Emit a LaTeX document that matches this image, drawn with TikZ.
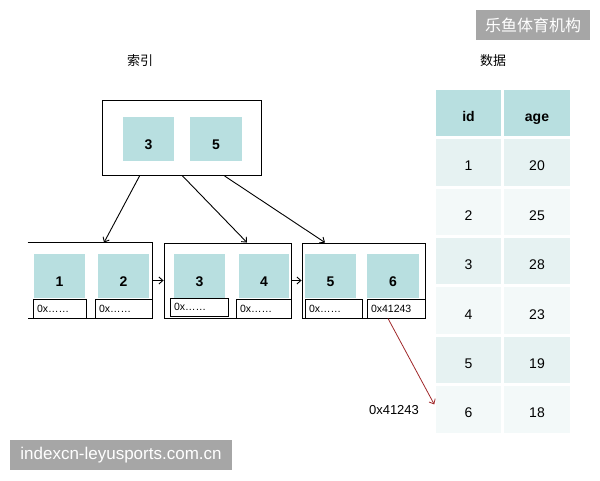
\documentclass[tikz,border=0pt]{standalone}
\usepackage{fontspec}
\setmainfont{Liberation Sans}
\newfontfamily\cjk{Noto Sans CJK SC}
\usepackage{xcolor}
\usetikzlibrary{positioning,calc,arrows.meta}
\definecolor{keycol}{HTML}{B8DFE0}
\definecolor{rowa}{HTML}{E6F2F2}
\definecolor{rowb}{HTML}{F3F9F9}
\definecolor{markgray}{HTML}{A6A6A6}
\definecolor{linkred}{HTML}{A0282A}

\begin{document}
\begin{tikzpicture}[x=1pt, y=-1pt, ->, >={Straight Barb[length=4pt,width=7pt]}, line width=0.9pt,
  box/.style = {draw, minimum height=75pt, inner sep=0pt},
  key/.style = {fill=keycol, minimum width=51pt, minimum height=44pt, inner sep=0pt, text height=20pt, text depth=0pt, font=\bfseries\fontsize{14}{16}\selectfont},
  ptr/.style = {draw, fill=white, minimum width=#1, minimum height=19pt, inner sep=0pt},
  ptrtext/.style = {anchor=west, inner sep=4pt, font=\fontsize{10.5}{12}\selectfont},
  cell/.style = {draw=white, line width=1.5pt, minimum height=48pt, inner sep=0pt, text height=17pt, text depth=0pt, font=\fontsize{14}{16}\selectfont},
  stamp/.style = {fill=markgray, text=white, inner sep=0pt, font=\fontsize{17}{19}\selectfont}]

\useasboundingbox (0,0) rectangle (600,480);

% titles
\node[font=\cjk\fontsize{13}{15}\selectfont] (idxtitle) at (140,61) {索引};
\node[font=\cjk\fontsize{13}{15}\selectfont] (datatitle) at (493,61) {数据};

% root
\node[box, minimum width=159pt] (root) at (181.5,138) {};
\node[key] (r3) at (148.5,139) {3};
\node[key, minimum width=52pt] (r5) at (216,139) {5};

% leaves
\node[minimum width=124pt, minimum height=75pt, inner sep=0pt] (leaf1) at (90,280.5) {};
\draw[-] (leaf1.north west) -| (leaf1.south east) -- (leaf1.south west);
\node[box, minimum width=127pt] (leaf2) at (227.5,280.5) {};
\node[box, minimum width=123pt] (leaf3) at (363.5,280.5) {};

\node[key] (k1) at (59.5,276) {1};
\node[key] (k2) at (123.5,276) {2};
\node[key] (k3) at (199.5,276) {3};
\node[key, minimum width=50pt] (k4) at (264,276) {4};
\node[key] (k5) at (330.5,276) {5};
\node[key, minimum width=52pt] (k6) at (393,276) {6};

\node[ptr=53pt, label={[ptrtext]west:0x……}] (p1) at (59.5,308.5) {};
\node[ptr=57pt, label={[ptrtext]west:0x……}] (p2) at (123.5,308.5) {};
\node[ptr=58pt, minimum height=18pt, label={[ptrtext]west:0x……}] (p3) at (199,307) {};
\node[ptr=55pt, label={[ptrtext]west:0x……}] (p4) at (263.5,308.5) {};
\node[ptr=57pt, label={[ptrtext]west:0x……}] (p5) at (333.5,308.5) {};
\node[ptr=58pt, label={[ptrtext]west:0x41243}] (p6) at (396,308.5) {};

% table
\node[cell, fill=keycol, minimum width=67pt, font=\bfseries\fontsize{14}{16}\selectfont] (hid) at (468.5,113) {id};
\node[cell, fill=keycol, minimum width=68pt, font=\bfseries\fontsize{14}{16}\selectfont] (hage) at (537,113) {age};
\foreach \i/\a/\c in {1/20/rowa, 2/25/rowb, 3/28/rowa, 4/23/rowb, 5/19/rowa, 6/18/rowb}{
  \pgfmathsetmacro\yy{113+49.4*\i}
  \node[cell, fill=\c, minimum width=67pt] (id\i) at (468.5,\yy) {\i};
  \node[cell, fill=\c, minimum width=68pt] (age\i) at (537,\yy) {\a};
}

\node[font=\fontsize{13}{15}\selectfont] (addr) at (394,410) {0x41243};

% links
\path
 ([xshift=38pt]root.south west) edge ([xshift=14pt]leaf1.north)
 ([xshift=81pt]root.south west) edge ([xshift=19.5pt]leaf2.north)
 ([xshift=123pt]root.south west) edge ([xshift=-38.5pt]leaf3.north)
 (leaf1.east) edge (leaf2.west)
 (leaf2.east) edge (leaf3.west);
\draw[linkred, line width=0.8pt] ([xshift=-8pt]p6.south) -- ([yshift=5pt]id6.west);

% marks
\node[stamp, minimum width=114pt, minimum height=30pt, font=\cjk\fontsize{16}{18}\selectfont] (markcorp) at (533,25) {乐鱼体育机构};
\node[stamp, minimum width=222pt, minimum height=30pt] (marksite) at (121,455) {indexcn-leyusports.com.cn};
\end{tikzpicture}
\end{document}
